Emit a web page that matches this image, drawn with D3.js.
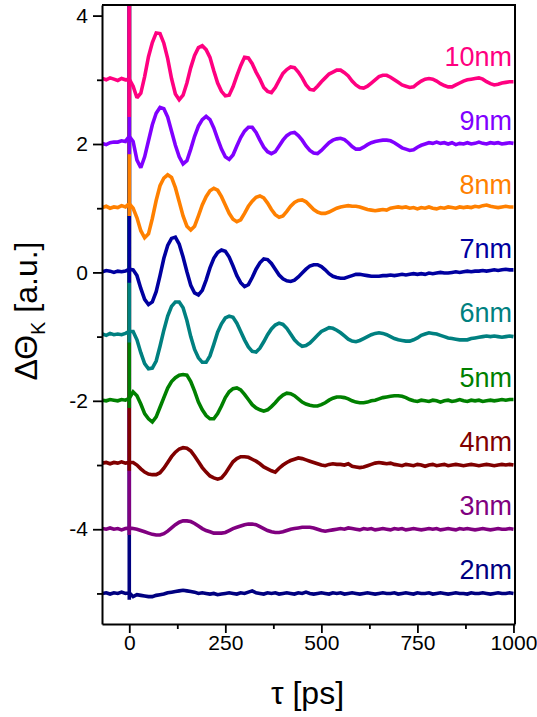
<!DOCTYPE html>
<html>
<head>
<meta charset="utf-8">
<script src="https://cdn.jsdelivr.net/npm/d3@7"></script>
<style>
  html, body { margin: 0; padding: 0; background: #fff; }
  svg { display: block; font-family: "Liberation Sans", Arial, Helvetica, sans-serif; }
</style>
</head>
<body>
<svg id="chart" width="537" height="717"></svg>
<script>
// Kerr rotation transients for films of different thickness, stacked by offset.
const names   = ["10nm", "9nm", "8nm", "7nm", "6nm", "5nm", "4nm", "3nm", "2nm"];
const offsets = [3, 2, 1, 0, -1, -2, -3, -4, -5];
const colors  = ["#ff0080", "#8000ff", "#ff8000", "#0000a0", "#008080", "#008000", "#800000", "#800080", "#000080"];

// delay grid (ps): -70 ... 1000 in 10 ps steps
const tau = d3.range(-70, 1001, 10);

// signal minus offset, one value per delay
const d10 = [
  0.02, 0.00, 0.03, 0.01, -0.01, 0.02, 0.00, 0.01,
  -0.10, -0.28, -0.21, 0.05, 0.36, 0.58, 0.73, 0.72, 0.57, 0.33,
  0.02, -0.22, -0.31, -0.24, -0.05, 0.19, 0.38, 0.50, 0.53, 0.47,
  0.35, 0.14, -0.05, -0.18, -0.25, -0.24, -0.11, 0.06, 0.22, 0.35,
  0.34, 0.25, 0.12, 0.01, -0.12, -0.18, -0.20, -0.12, -0.01, 0.10,
  0.16, 0.20, 0.19, 0.12, 0.03, -0.08, -0.15, -0.16, -0.10, -0.03,
  0.03, 0.09, 0.12, 0.15, 0.15, 0.11, 0.06, -0.02, -0.08, -0.12,
  -0.13, -0.10, -0.05, 0.00, 0.05, 0.07, 0.07, 0.04, 0.00, -0.04,
  -0.08, -0.10, -0.12, -0.11, -0.06, -0.02, 0.01, 0.02, 0.01, -0.02,
  -0.06, -0.09, -0.11, -0.11, -0.08, -0.05, -0.02, 0.00, 0.01, 0.02,
  0.03, 0.01, -0.03, -0.06, -0.08, -0.07, -0.05, -0.04, -0.03, -0.03
];
const d9 = [
  0.01, -0.01, 0.02, 0.03, 0.03, 0.05, 0.04, 0.12,
  0.04, -0.25, -0.37, -0.20, 0.05, 0.30, 0.48, 0.57, 0.55, 0.42,
  0.20, -0.02, -0.20, -0.31, -0.26, -0.08, 0.12, 0.28, 0.38, 0.43,
  0.38, 0.25, 0.08, -0.08, -0.20, -0.24, -0.17, -0.03, 0.10, 0.20,
  0.26, 0.26, 0.18, 0.06, -0.05, -0.12, -0.15, -0.12, -0.03, 0.06,
  0.13, 0.17, 0.18, 0.13, 0.06, -0.03, -0.10, -0.14, -0.15, -0.10,
  -0.04, 0.02, 0.06, 0.08, 0.09, 0.07, 0.02, -0.04, -0.08, -0.08,
  -0.05, -0.01, 0.02, 0.04, 0.05, 0.06, 0.06, 0.05, 0.02, -0.02,
  -0.06, -0.08, -0.10, -0.09, -0.05, -0.02, 0.00, 0.02, 0.01, 0.03,
  0.01, 0.02, 0.00, 0.02, -0.01, 0.01, 0.00, 0.02, 0.00, 0.01,
  0.03, 0.01, 0.00, 0.02, 0.01, 0.02, 0.00, 0.01, 0.02, 0.01
];
const d8 = [
  0.01, 0.03, 0.00, 0.02, 0.01, 0.04, 0.02, 0.07,
  0.00, -0.15, -0.35, -0.46, -0.40, -0.16, 0.12, 0.35, 0.47, 0.52,
  0.48, 0.32, 0.10, -0.12, -0.28, -0.34, -0.28, -0.12, 0.05, 0.18,
  0.27, 0.31, 0.28, 0.18, 0.05, -0.08, -0.17, -0.21, -0.18, -0.08,
  0.03, 0.11, 0.17, 0.19, 0.16, 0.08, -0.02, -0.10, -0.14, -0.12,
  -0.05, 0.03, 0.09, 0.12, 0.13, 0.10, 0.04, -0.02, -0.06, -0.08,
  -0.08, -0.06, -0.03, 0.00, 0.02, 0.03, 0.04, 0.03, 0.03, 0.02,
  0.00, -0.02, -0.03, -0.04, -0.03, -0.02, -0.03, 0.00, 0.01, 0.02,
  0.01, 0.02, 0.00, 0.01, -0.01, 0.01, 0.00, 0.02, 0.00, -0.01,
  0.01, 0.00, 0.02, 0.01, 0.00, 0.02, 0.01, 0.02, 0.01, 0.03,
  0.02, 0.04, 0.05, 0.03, 0.02, 0.01, 0.02, 0.03, 0.02, 0.02
];
const d7 = [
  0.01, 0.03, 0.02, 0.00, 0.02, 0.01, 0.02, 0.05,
  0.04, -0.05, -0.25, -0.42, -0.50, -0.46, -0.30, -0.05, 0.22, 0.42,
  0.53, 0.55, 0.44, 0.24, 0.01, -0.20, -0.32, -0.35, -0.28, -0.12,
  0.07, 0.22, 0.31, 0.35, 0.33, 0.24, 0.10, -0.05, -0.16, -0.22,
  -0.19, -0.08, 0.05, 0.15, 0.21, 0.20, 0.14, 0.05, -0.04, -0.10,
  -0.13, -0.14, -0.12, -0.07, -0.01, 0.05, 0.10, 0.12, 0.12, 0.09,
  0.04, -0.02, -0.06, -0.08, -0.09, -0.09, -0.07, -0.05, -0.03, -0.03,
  -0.04, -0.05, -0.06, -0.06, -0.06, -0.05, -0.05, -0.04, -0.05, -0.04,
  -0.03, -0.04, -0.03, -0.02, -0.03, -0.02, -0.03, -0.01, -0.02, -0.01,
  0.00, -0.01, -0.01, 0.00, 0.01, 0.00, 0.01, 0.02, 0.01, 0.02,
  0.02, 0.03, 0.02, 0.03, 0.04, 0.03, 0.04, 0.05, 0.04, 0.04
];
const d6 = [
  0.04, 0.02, 0.05, 0.03, 0.04, 0.03, 0.05, 0.08,
  0.08, -0.05, -0.25, -0.42, -0.50, -0.49, -0.38, -0.15, 0.10, 0.32,
  0.47, 0.54, 0.54, 0.45, 0.25, 0.00, -0.20, -0.33, -0.40, -0.40,
  -0.30, -0.12, 0.07, 0.20, 0.29, 0.32, 0.30, 0.21, 0.08, -0.05,
  -0.16, -0.23, -0.24, -0.18, -0.08, 0.03, 0.12, 0.18, 0.21, 0.19,
  0.13, 0.04, -0.05, -0.11, -0.15, -0.14, -0.10, -0.04, 0.02, 0.08,
  0.11, 0.14, 0.13, 0.10, 0.06, 0.01, -0.04, -0.07, -0.08, -0.06,
  -0.03, 0.00, 0.03, 0.05, 0.06, 0.05, 0.03, 0.00, -0.03, -0.05,
  -0.06, -0.07, -0.07, -0.05, -0.02, 0.02, 0.04, 0.06, 0.05, 0.04,
  0.02, 0.00, -0.02, -0.03, -0.04, -0.05, -0.05, -0.05, -0.03, -0.02,
  -0.01, 0.00, 0.01, 0.00, 0.01, 0.00, -0.01, 0.00, 0.01, 0.00
];
const d5 = [
  0.01, 0.00, 0.02, 0.01, 0.00, 0.02, 0.01, 0.04,
  0.14, 0.08, -0.05, -0.20, -0.28, -0.33, -0.25, -0.10, 0.05, 0.20,
  0.30, 0.36, 0.40, 0.41, 0.40, 0.30, 0.15, -0.02, -0.14, -0.23,
  -0.28, -0.28, -0.20, -0.08, 0.05, 0.14, 0.19, 0.20, 0.17, 0.10,
  0.02, -0.06, -0.11, -0.14, -0.16, -0.14, -0.09, -0.03, 0.04, 0.09,
  0.12, 0.11, 0.08, 0.03, -0.02, -0.05, -0.07, -0.08, -0.08, -0.06,
  -0.03, 0.01, 0.04, 0.06, 0.06, 0.05, 0.03, 0.00, -0.02, -0.03,
  -0.03, -0.02, 0.00, 0.01, 0.03, 0.05, 0.06, 0.07, 0.08, 0.08,
  0.07, 0.05, 0.02, 0.00, -0.01, 0.01, 0.00, -0.01, 0.01, 0.00,
  -0.02, 0.00, 0.01, -0.01, 0.00, 0.02, 0.00, -0.01, 0.01, 0.00,
  0.01, -0.01, 0.00, 0.01, 0.00, 0.01, 0.02, 0.01, 0.02, 0.02
];
const d4 = [
  0.03, 0.04, 0.02, 0.04, 0.03, 0.05, 0.03, 0.04,
  0.04, 0.00, -0.06, -0.11, -0.14, -0.15, -0.15, -0.12, -0.05, 0.04,
  0.13, 0.20, 0.25, 0.27, 0.26, 0.22, 0.14, 0.05, -0.04, -0.11,
  -0.17, -0.20, -0.22, -0.20, -0.13, -0.04, 0.05, 0.10, 0.13, 0.13,
  0.12, 0.09, 0.06, 0.02, -0.03, -0.06, -0.09, -0.11, -0.05, 0.00,
  0.04, 0.07, 0.09, 0.11, 0.10, 0.08, 0.06, 0.04, 0.02, 0.00,
  -0.01, 0.01, 0.02, 0.01, 0.01, 0.00, 0.02, -0.02, -0.03, -0.04,
  -0.03, -0.01, 0.01, 0.03, 0.04, 0.03, 0.02, 0.03, 0.01, 0.00,
  -0.01, 0.01, 0.00, -0.01, 0.01, 0.00, -0.02, 0.00, 0.01, -0.01,
  0.00, 0.01, -0.01, 0.00, 0.01, 0.00, -0.01, 0.00, 0.01, 0.00,
  -0.01, 0.00, 0.01, 0.00, -0.01, 0.00, 0.01, 0.00, 0.01, 0.00
];
const d3v = [
  0.01, 0.00, 0.02, 0.00, 0.01, -0.01, 0.01, 0.02,
  0.01, 0.00, -0.02, -0.04, -0.06, -0.08, -0.09, -0.09, -0.07, -0.03,
  0.02, 0.07, 0.11, 0.13, 0.13, 0.12, 0.09, 0.05, 0.01, -0.02,
  -0.04, -0.06, -0.06, -0.06, -0.05, -0.02, 0.01, 0.03, 0.05, 0.07,
  0.08, 0.08, 0.07, 0.04, 0.01, -0.02, -0.04, -0.05, -0.05, -0.04,
  -0.02, 0.00, 0.01, 0.02, 0.03, 0.03, 0.03, 0.02, 0.00, -0.02,
  -0.03, -0.02, -0.01, 0.00, 0.01, 0.00, 0.02, 0.01, 0.00, -0.01,
  0.01, 0.00, 0.01, -0.01, 0.00, 0.01, 0.00, -0.01, 0.01, 0.00,
  0.01, -0.01, 0.00, 0.01, 0.00, -0.01, 0.00, 0.01, 0.00, 0.01,
  -0.01, 0.00, 0.01, 0.00, -0.01, 0.01, 0.00, 0.01, 0.00, -0.01,
  0.00, 0.01, 0.00, -0.01, 0.00, 0.01, 0.00, 0.00, 0.01, 0.00
];
const d2 = [
  0.00, 0.01, -0.01, 0.01, 0.00, 0.02, 0.00, 0.01,
  -0.05, -0.02, -0.03, -0.04, -0.05, -0.05, -0.03, -0.02, -0.01, 0.01,
  0.02, 0.03, 0.04, 0.05, 0.04, 0.03, 0.02, 0.00, 0.01, 0.00,
  -0.01, 0.00, -0.02, -0.01, 0.00, 0.01, 0.00, -0.01, 0.01, 0.00,
  0.02, 0.04, 0.01, 0.00, -0.01, 0.01, 0.00, 0.01, -0.01, 0.00,
  0.01, 0.00, -0.01, 0.01, 0.00, 0.02, 0.00, -0.01, 0.00, 0.01,
  0.00, -0.01, 0.01, 0.00, 0.01, -0.01, 0.00, 0.01, 0.00, -0.01,
  0.00, 0.01, 0.00, -0.01, 0.00, 0.01, 0.00, 0.00, 0.01, -0.01,
  0.00, 0.01, 0.00, -0.01, 0.01, 0.00, 0.00, 0.01, -0.01, 0.00,
  0.01, 0.00, -0.01, 0.00, 0.01, 0.00, 0.00, -0.01, 0.01, 0.00,
  0.00, 0.01, 0.00, -0.01, 0.00, 0.01, 0.00, 0.00, 0.01, 0.00
];
const signals = [d10, d9, d8, d7, d6, d5, d4, d3v, d2];

// coherent artefact at zero delay: shoots far above the frame, then dips below the trace
const spikeHigh = 12;
const spikeLow  = [-0.58, -0.16, -0.12, -0.16, -0.09, -0.11, -0.09, -0.09, -0.10];

const xMajor = [0, 250, 500, 750, 1000];
const xMinor = [125, 375, 625, 875];
const yMajor = [-4, -2, 0, 2, 4];
const yMinor = [-5, -3, -1, 1, 3];

const plot = { left: 102, right: 515, top: 5, bottom: 624 };
const FONT = '"Liberation Sans", Arial, Helvetica, sans-serif';

const x = d3.scaleLinear().domain([-71, 1004]).range([plot.left, plot.right]);
const y = d3.scaleLinear().domain([-5.476, 4.165]).range([plot.bottom, plot.top]);

const svg = d3.select("#chart");

svg.append("defs").append("clipPath").attr("id", "plotClip")
  .append("rect")
  .attr("x", plot.left).attr("y", plot.top)
  .attr("width", plot.right - plot.left).attr("height", plot.bottom - plot.top);

// build each trace; at t = 0 the spike runs straight up and down before the trace continues
function traceOf(i) {
  const pts = [];
  tau.forEach((t, j) => {
    const v = offsets[i] + signals[i][j];
    if (t === 0) {
      pts.push([0, v]);
      pts.push([0, offsets[i] + spikeHigh]);
      pts.push([0, offsets[i] + spikeLow[i]]);
    }
    pts.push([t, v]);
  });
  return pts;
}

const line = d3.line().x(d => x(d[0])).y(d => y(d[1]));

const traces = svg.append("g").attr("clip-path", "url(#plotClip)");
// thinnest film first so that thicker films sit on top at the spike
for (let i = names.length - 1; i >= 0; i--) {
  traces.append("path")
    .datum(traceOf(i))
    .attr("d", line)
    .attr("fill", "none")
    .attr("stroke", colors[i])
    .attr("stroke-width", 3.6)
    .attr("stroke-linejoin", "miter")
    .attr("stroke-miterlimit", 2)
    .attr("stroke-linecap", "butt");
}

// thickness labels
svg.append("g").selectAll("text")
  .data(names)
  .join("text")
  .attr("x", 512)
  .attr("y", (d, i) => y(offsets[i] + 0.22))
  .attr("text-anchor", "end")
  .attr("font-family", FONT)
  .attr("font-size", 27)
  .attr("fill", (d, i) => colors[i])
  .text(d => d);

// axes
function styleAxis(g, fontSize) {
  g.attr("font-family", FONT).attr("font-size", fontSize);
  g.selectAll("path.domain").attr("stroke", "#000").attr("stroke-width", 2);
  g.selectAll(".tick line").attr("stroke", "#000").attr("stroke-width", 1.8);
  g.selectAll(".tick text").attr("fill", "#000");
}

const gx = svg.append("g").attr("transform", `translate(0,${plot.bottom})`)
  .call(d3.axisBottom(x).tickValues(xMajor).tickSize(9).tickSizeOuter(0).tickPadding(2)
    .tickFormat(d => String(d)));
styleAxis(gx, 21);

const gxm = svg.append("g").attr("transform", `translate(0,${plot.bottom})`)
  .call(d3.axisBottom(x).tickValues(xMinor).tickSize(5).tickSizeOuter(0).tickFormat(""));
gxm.select("path.domain").remove();
styleAxis(gxm, 21);

const gy = svg.append("g").attr("transform", `translate(${plot.left},0)`)
  .call(d3.axisLeft(y).tickValues(yMajor).tickSize(9).tickSizeOuter(0).tickPadding(5)
    .tickFormat(d => String(d)));
styleAxis(gy, 21);

const gym = svg.append("g").attr("transform", `translate(${plot.left},0)`)
  .call(d3.axisLeft(y).tickValues(yMinor).tickSize(5).tickSizeOuter(0).tickFormat(""));
gym.select("path.domain").remove();
styleAxis(gym, 21);

// top and right edges of the frame
svg.append("path")
  .attr("d", `M${plot.left},${plot.top}H${plot.right}V${plot.bottom}`)
  .attr("fill", "none").attr("stroke", "#000").attr("stroke-width", 2);

// axis titles
svg.append("text")
  .attr("x", (plot.left + plot.right) / 2 - 1)
  .attr("y", 704)
  .attr("text-anchor", "middle")
  .attr("font-family", FONT)
  .attr("font-size", 32)
  .attr("fill", "#000")
  .text("τ [ps]");

const yt = svg.append("text")
  .attr("transform", "translate(37,311) rotate(-90)")
  .attr("text-anchor", "middle")
  .attr("font-family", FONT)
  .attr("font-size", 32)
  .attr("fill", "#000");
yt.append("tspan").text("ΔΘ");
yt.append("tspan").attr("font-size", 20).attr("dy", 8).text("K");
yt.append("tspan").attr("dy", -8).text(" [a.u.]");
</script>
</body>
</html>
